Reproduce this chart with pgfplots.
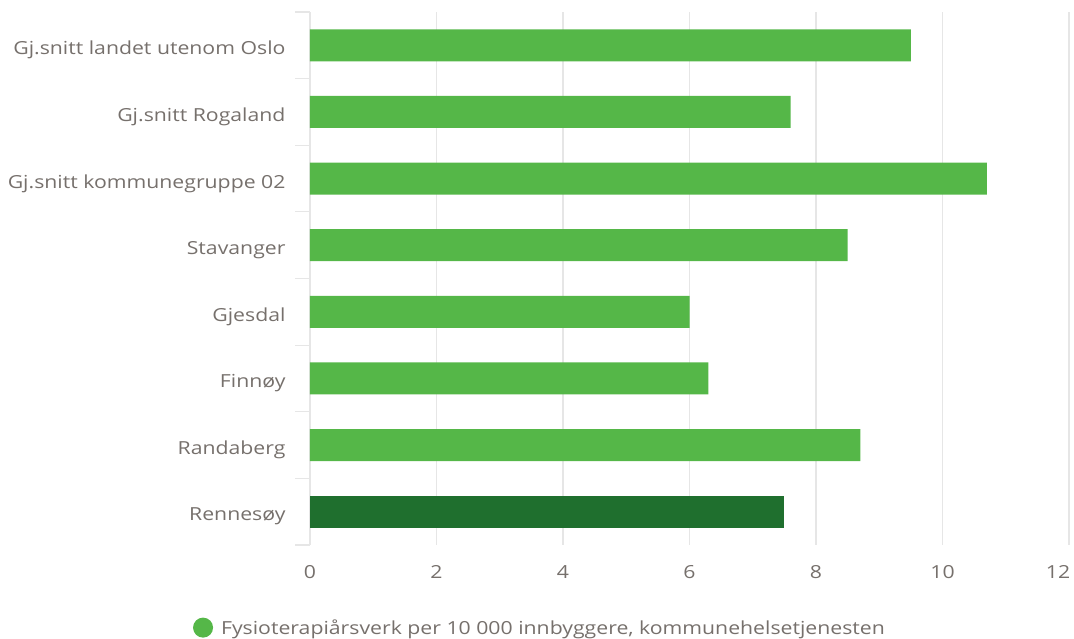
\documentclass[border=0pt]{standalone}
\usepackage{pgfplots}
\pgfplotsset{compat=1.18}
\usepackage{fontspec}
\setmainfont{Open Sans}[FakeStretch=1.18]
\definecolor{lgreen}{HTML}{55B748}
\definecolor{dgreen}{HTML}{1F6F2E}
\definecolor{txt}{HTML}{76706C}
\definecolor{gridc}{HTML}{E6E6E6}
\begin{document}
\begin{tikzpicture}
\useasboundingbox (-310bp,-94bp) rectangle (764bp,545bp);
\begin{axis}[
  scale only axis, width=759bp, height=533bp,
  xmin=0, xmax=12, ymin=-0.5, ymax=7.5,
  xbar, bar width=32bp, bar shift=0pt,
  xtick={0,2,...,10}, xmajorgrids, grid style={gridc, line width=1.2bp},
  extra x ticks={12},
  extra x tick style={grid=major, xticklabel style={xshift=-11bp}},
  ytick={0,...,7},
  yticklabels={Rennesøy,Randaberg,Finnøy,Gjesdal,Stavanger,Gj.snitt kommunegruppe 02,Gj.snitt Rogaland,Gj.snitt landet utenom Oslo},
  minor ytick={-0.5,0.5,...,7.5},
  major tick length=0pt, minor tick length=15bp,
  tick align=outside,
  minor tick style={gridc, line width=1.2bp},
  axis x line*=bottom, x axis line style={draw=none},
  axis y line*=left, y axis line style={draw=gridc, line width=1.2bp},
  xtick pos=bottom, ytick pos=left,
  tick label style={font=\fontsize{18bp}{20bp}\selectfont, text=txt},
  /pgf/number format/assume math mode=true,
  y tick label style={xshift=-21bp, yshift=-5bp},
  x tick label style={yshift=-17bp},
  legend style={at={(0.303,-0.155)}, anchor=center, draw=none, font=\fontsize{18bp}{20bp}\selectfont, text=txt, legend cell align=left},
  legend image code/.code={\fill[lgreen] (0bp,0bp) circle (10bp);},
]
\addplot[fill=lgreen, draw=none] coordinates {(9.5,7) (7.6,6) (10.7,5) (8.5,4) (6.0,3) (6.3,2) (8.7,1)};
\addlegendentry{\hspace{6bp}Fysioterapiårsverk per 10 000 innbyggere, kommunehelsetjenesten}
\addplot[fill=dgreen, draw=none, forget plot] coordinates {(7.5,0)};
\end{axis}
\end{tikzpicture}
\end{document}
